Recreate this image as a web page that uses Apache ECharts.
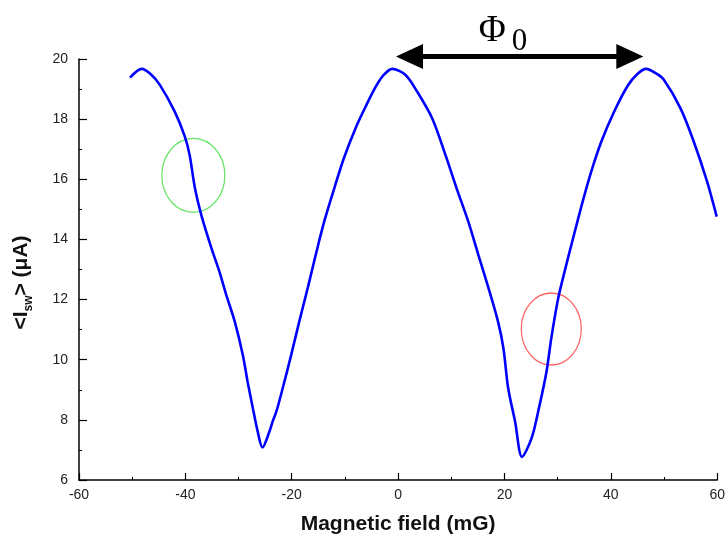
<!DOCTYPE html>
<html>
<head>
<meta charset="utf-8">
<script src="https://cdn.jsdelivr.net/npm/echarts@6/dist/echarts.min.js"></script>
<style>
  html, body { margin: 0; padding: 0; background: #fff; }
  #chart { width: 728px; height: 541px; }
</style>
</head>
<body>
<div id="chart"></div>
<script>
  // magnetic field (mG) and mean switching current (uA)
  const fieldX = [-50.4, -48.2, -46.5, -44.8, -42.0, -40.1, -39.2, -38.2, -37.0, -35.1, -33.6, -32.3, -30.7,
    -29.2, -28.3, -27.3, -26.4, -25.5, -24.2, -23.6, -22.9, -21.7, -20.1, -18.6, -17.0, -15.5, -13.9,
    -12.0, -10.2, -8.0, -6.1, -4.2, -2.7, -1.1, 1.4, 3.6, 6.4, 8.9, 11.0, 13.2, 15.1, 17.0, 18.8, 19.8,
    20.7, 22.0, 23.3, 25.1, 26.6, 27.9, 28.8, 30.1, 31.3, 32.9, 34.7, 36.3, 38.2, 40.7, 43.2, 45.0,
    46.6, 48.5, 50.0, 53.1, 55.6, 58.1, 59.9];
  const currentY = [19.38, 19.67, 19.49, 19.14, 18.25, 17.42, 16.81, 15.70, 14.81, 13.71, 12.93, 12.15, 11.26,
    10.16, 9.27, 8.38, 7.61, 7.08, 7.61, 7.94, 8.27, 9.05, 10.16, 11.26, 12.38, 13.48, 14.59,
    15.70, 16.70, 17.70, 18.42, 19.08, 19.47, 19.67, 19.47, 18.91, 18.03, 16.81, 15.70, 14.59, 13.48, 12.38, 11.26, 10.38,
    9.05, 7.94, 6.77, 7.39, 8.49, 9.60, 10.71, 12.04, 12.93, 14.04, 15.26, 16.25, 17.25, 18.28, 19.12, 19.50,
    19.67, 19.52, 19.30, 18.36, 17.25, 15.92, 14.76];

  // flux quantum arrow (peak to peak) and the two marked regions
  const phiArrowX = [-0.4, 46.1];
  const phiArrowY = 20.08;
  const circleX = [-38.5, 28.8];
  const circleY = [16.13, 11.02];

  const chart = echarts.init(document.getElementById('chart'));
  const sans = 'Liberation Sans, Arial, sans-serif';

  let curve = [];
  for (let i = 0; i < fieldX.length; i++) {
    curve.push([fieldX[i], currentY[i]]);
  }

  let option = {
    backgroundColor: '#fff',
    animation: false,
    grid: {
      left: 79,
      right: 8,
      top: 59,
      bottom: 61
    },
    xAxis: {
      type: 'value',
      min: -60,
      max: 60,
      interval: 20,
      name: 'Magnetic field (mG)',
      nameLocation: 'middle',
      nameGap: 34,
      nameTextStyle: {fontFamily: sans, fontWeight: 'bold', fontSize: 21, color: '#111'},
      axisLine: {show: true, onZero: false, lineStyle: {color: '#000', width: 1.5}},
      axisTick: {show: true, inside: true, length: 7, lineStyle: {color: '#000', width: 1.2}},
      minorTick: {show: true, splitNumber: 2, length: 3, lineStyle: {color: '#000', width: 1}},
      axisLabel: {fontFamily: sans, fontSize: 14, color: '#222', margin: 8},
      splitLine: {show: false}
    },
    yAxis: {
      type: 'value',
      min: 6,
      max: 20,
      interval: 2,
      name: '{b|<I}{s|sw}{b|> (μA)}',
      nameLocation: 'middle',
      nameRotate: 90,
      nameGap: 44,
      nameTextStyle: {
        padding: [0, 26, 0, 0],
        rich: {
          b: {fontFamily: sans, fontWeight: 'bold', fontSize: 21, color: '#111', lineHeight: 28, verticalAlign: 'middle'},
          s: {fontFamily: sans, fontWeight: 'bold', fontSize: 12, color: '#111', lineHeight: 12, verticalAlign: 'bottom'}
        }
      },
      axisLine: {show: true, onZero: false, lineStyle: {color: '#000', width: 1.5}},
      axisTick: {show: true, inside: true, length: 8, lineStyle: {color: '#000', width: 1.2}},
      minorTick: {show: true, splitNumber: 2, length: 3, lineStyle: {color: '#000', width: 1}},
      axisLabel: {fontFamily: sans, fontSize: 14, color: '#222', margin: 11},
      splitLine: {show: false}
    },
    series: [
      {
        name: 'Isw',
        type: 'line',
        data: curve,
        showSymbol: false,
        smooth: 0.3,
        lineStyle: {color: '#0000ff', width: 2.6}
      },
      {
        name: 'green',
        type: 'scatter',
        data: [[circleX[0], circleY[0]]],
        symbol: 'circle',
        symbolSize: [63, 74],
        itemStyle: {color: 'rgba(0,0,0,0)', borderColor: '#3ddc3d', borderWidth: 1.3}
      },
      {
        name: 'red',
        type: 'scatter',
        data: [[circleX[1], circleY[1]]],
        symbol: 'circle',
        symbolSize: [60, 72],
        itemStyle: {color: 'rgba(0,0,0,0)', borderColor: '#ff3a3a', borderWidth: 1.3}
      }
    ]
  };

  chart.setOption(option);

  // double arrow + label, placed through the axes
  const a = chart.convertToPixel({gridIndex: 0}, [phiArrowX[0], phiArrowY]);
  const b = chart.convertToPixel({gridIndex: 0}, [phiArrowX[1], phiArrowY]);
  const head = 27, half = 12.5;
  const mid = (a[0] + b[0]) / 2;
  chart.setOption({
    graphic: [
      {type: 'line', shape: {x1: a[0] + head - 2, y1: a[1], x2: b[0] - head + 2, y2: b[1]}, style: {stroke: '#000', lineWidth: 5}},
      {type: 'polygon', shape: {points: [[a[0], a[1]], [a[0] + head, a[1] - half], [a[0] + head, a[1] + half]]}, style: {fill: '#000'}},
      {type: 'polygon', shape: {points: [[b[0], b[1]], [b[0] - head, b[1] - half], [b[0] - head, b[1] + half]]}, style: {fill: '#000'}},
      {type: 'text', x: mid - 41, y: a[1] - 25, style: {text: 'Φ', font: '37px "Liberation Serif", "Times New Roman", serif', fill: '#000', textAlign: 'left', textVerticalAlign: 'middle'}},
      {type: 'text', x: mid - 8, y: a[1] - 15, style: {text: '0', font: '31px "Liberation Serif", "Times New Roman", serif', fill: '#000', textAlign: 'left', textVerticalAlign: 'middle'}}
    ]
  });

  window.addEventListener('resize', function () {
    chart.resize();
  });
</script>
</body>
</html>
